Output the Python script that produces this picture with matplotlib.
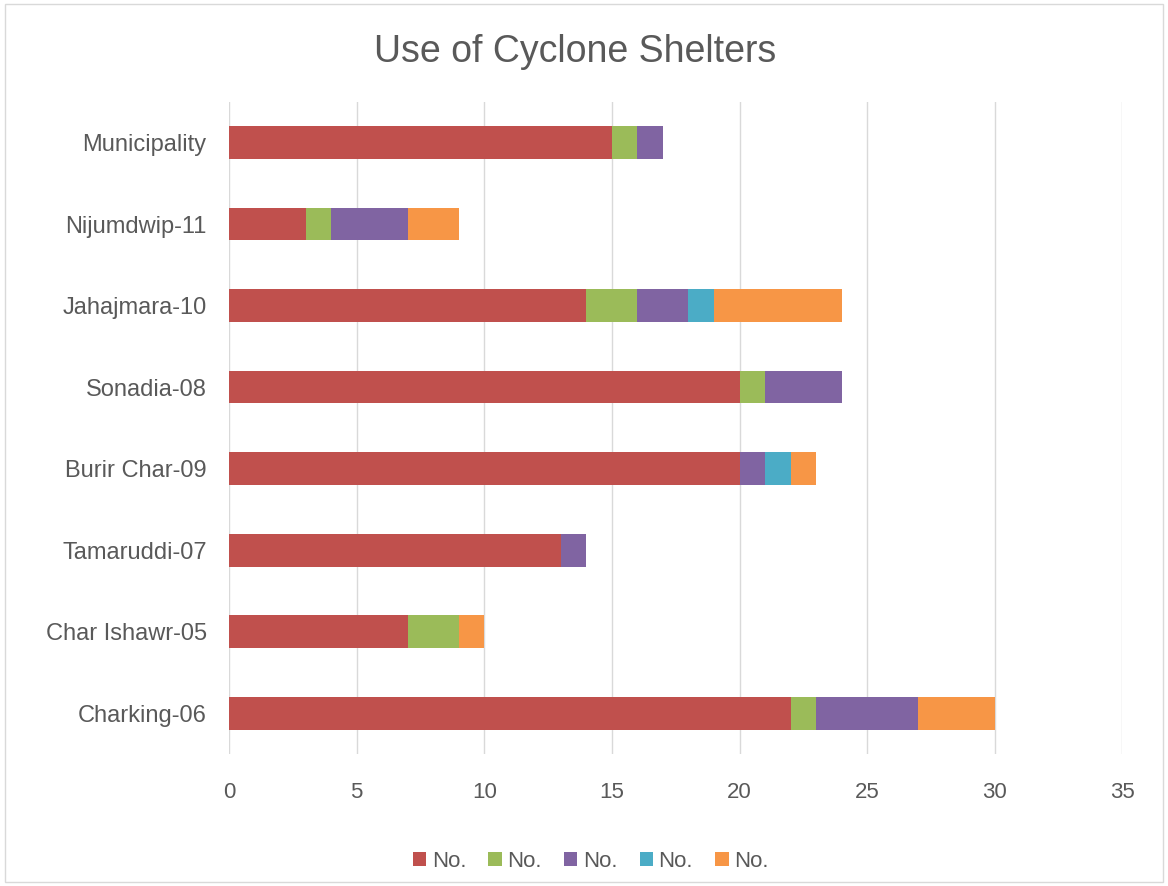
import numpy as np
import matplotlib.pyplot as plt

plt.rcParams['font.family'] = ['Liberation Sans', 'DejaVu Sans']

# Data (bottom to top)
places = ['Charking-06', 'Char Ishawr-05', 'Tamaruddi-07', 'Burir Char-09',
          'Sonadia-08', 'Jahajmara-10', 'Nijumdwip-11', 'Municipality']
s1 = [22, 7, 13, 20, 20, 14, 3, 15]
s2 = [1, 2, 0, 0, 1, 2, 1, 1]
s3 = [4, 0, 1, 1, 3, 2, 3, 1]
s4 = [0, 0, 0, 1, 0, 1, 0, 0]
s5 = [3, 1, 0, 1, 0, 5, 2, 0]
series = [s1, s2, s3, s4, s5]
labels = ['No.', 'No.', 'No.', 'No.', 'No.']
colors = ['#C0504D', '#9BBB59', '#8064A2', '#4BACC6', '#F79646']

fig = plt.figure(figsize=(11.68, 8.86), dpi=100)
ax = fig.add_axes([0.196, 0.149, 0.765, 0.736])

y = np.arange(len(places))
left = np.zeros(len(places))
for vals, lab, col in zip(series, labels, colors):
    ax.barh(y, vals, left=left, height=0.4, color=col, label=lab, zorder=3)
    left += np.array(vals)

ax.set_xlim(0, 35)
ax.set_ylim(-0.5, len(places) - 0.5)
ax.set_xticks(range(0, 36, 5))
ax.set_yticks(y)
ax.set_yticklabels(places)
ax.grid(axis='x', color='#D9D9D9', linewidth=1, zorder=0)
for s in ax.spines.values():
    s.set_visible(False)
ax.tick_params(axis='both', length=0, labelsize=16, labelcolor='#595959')
ax.tick_params(axis='y', labelsize=17, pad=16)
ax.tick_params(axis='x', pad=20)

fig.suptitle('Use of Cyclone Shelters', x=0.492, y=0.962, fontsize=27, color='#595959')

ax.legend(loc='center', bbox_to_anchor=(0.405, -0.165), ncol=5, frameon=False,
          fontsize=16, labelcolor='#595959', handlelength=0.6, handleheight=0.6,
          handletextpad=0.25, columnspacing=1.0)

fig.patches.append(plt.Rectangle((0.004, 0.004), 0.992, 0.992, transform=fig.transFigure,
                                 fill=False, edgecolor='#D9D9D9', linewidth=1))

fig.savefig('out.png', dpi=100)
